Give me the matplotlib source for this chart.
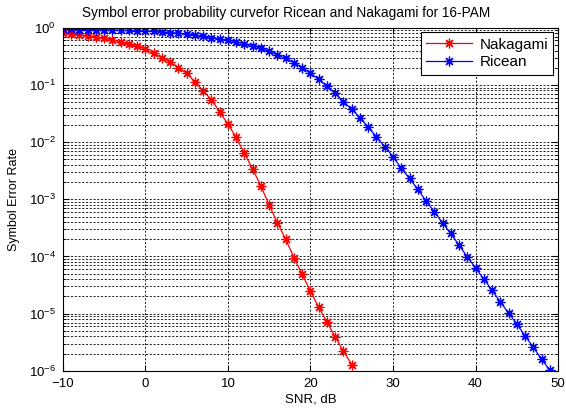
#!/usr/bin/env python3
"""Symbol error probability for 16-PAM over Ricean and Nakagami channels (MATLAB-style semilogy)."""

import matplotlib

matplotlib.use("Agg")
import matplotlib.pyplot as plt  # noqa: E402
import numpy as np  # noqa: E402
from matplotlib.ticker import LogLocator, NullFormatter  # noqa: E402

plt.rcParams["font.family"] = ["Liberation Sans", "DejaVu Sans"]

snr_nak = list(range(-10, 26))
ser_nak = [
    0.82, 0.79, 0.76, 0.725, 0.69, 0.65, 0.61, 0.565, 0.515, 0.47,
    0.424, 0.357, 0.301, 0.251, 0.201, 0.159, 0.1136, 0.079, 0.055, 0.034,
    0.0207, 0.0121, 0.00636, 0.00337, 0.0017, 7.9e-4, 3.88e-4, 1.99e-4, 9.6e-5, 4.86e-5,
    2.48e-5, 1.29e-5, 7.1e-6, 3.94e-6, 2.21e-6, 1.29e-6,
]

snr_ric = list(range(-10, 50))
ser_ric = [
    0.935, 0.933, 0.93, 0.927, 0.923, 0.918, 0.912, 0.905, 0.897, 0.887,
    0.875, 0.86, 0.845, 0.825, 0.80, 0.775, 0.745, 0.71, 0.675, 0.635,
    0.60, 0.565, 0.53, 0.485, 0.436, 0.385, 0.335, 0.29, 0.245, 0.20,
    0.16, 0.125, 0.094, 0.071, 0.051, 0.0374, 0.0267, 0.0181, 0.0124, 0.0083,
    0.0056, 3.47e-3, 2.32e-3, 1.49e-3, 9.4e-4, 6.05e-4, 3.88e-4, 2.53e-4, 1.58e-4, 9.87e-5,
    6.33e-5, 4.02e-5, 2.58e-5, 1.61e-5, 1.03e-5, 6.56e-6, 4.1e-6, 2.57e-6, 1.6e-6, 1.03e-6,
]

fig = plt.figure(figsize=(5.66, 4.08), dpi=100)
ax = fig.add_axes([0.111, 0.091, 0.875, 0.841])

# MATLAB-like '*' marker: plus and cross combined
star = (8, 2, 0)
ax.semilogy(snr_nak, ser_nak, "r-", marker=star, lw=0.9, ms=7, mew=0.9, label="Nakagami")
ax.semilogy(snr_ric, ser_ric, "b-", marker=star, lw=0.9, ms=7, mew=0.9, label="Ricean")

ax.set_xlim(-10, 50)
ax.set_ylim(1e-6, 1)
ax.set_xticks(np.arange(-10, 51, 10))
ax.yaxis.set_major_locator(LogLocator(base=10, numticks=10))
ax.yaxis.set_minor_locator(LogLocator(base=10, subs=np.arange(2, 10), numticks=20))
ax.yaxis.set_minor_formatter(NullFormatter())

dash = (0, (2.5, 2))
ax.grid(True, which="major", axis="both", color="k", ls=dash, lw=0.6)
ax.grid(True, which="minor", axis="y", color="k", ls=dash, lw=0.6)
ax.tick_params(which="both", direction="in", top=True, right=True, labelsize=9.5)
ax.tick_params(which="major", length=4, pad=5)
ax.tick_params(which="minor", length=2)
for s in ax.spines.values():
    s.set_linewidth(0.8)

ax.set_title("Symbol error probability curvefor Ricean and Nakagami for 16-PAM",
             fontsize=9.8, pad=8, x=0.45)
ax.set_xlabel("SNR, dB", fontsize=9.5, labelpad=3)
ax.set_ylabel("Symbol Error Rate", fontsize=9, labelpad=6)

leg = ax.legend(loc="upper right", fontsize=11, fancybox=False, framealpha=1,
                edgecolor="k", borderaxespad=0.3, handlelength=3.0,
                borderpad=0.35, labelspacing=0.25, handletextpad=0.5)
leg.get_frame().set_linewidth(0.8)

fig.savefig("out.png", dpi=100)
